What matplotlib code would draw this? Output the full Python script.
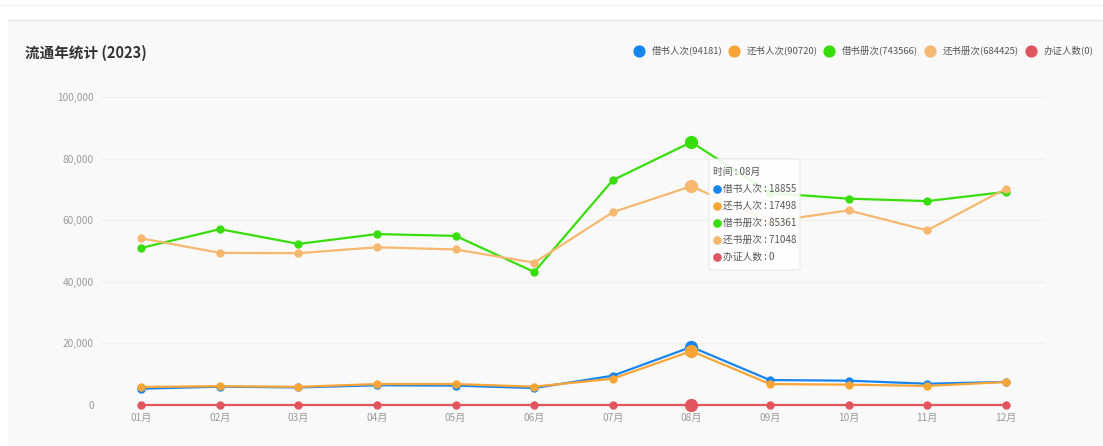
import matplotlib.pyplot as plt
from matplotlib.patches import Rectangle, FancyBboxPatch
from matplotlib.lines import Line2D
from matplotlib.ticker import FuncFormatter

plt.rcParams['font.family'] = ['Noto Sans CJK SC', 'DejaVu Sans']

# 数据
months = ['01月', '02月', '03月', '04月', '05月', '06月',
          '07月', '08月', '09月', '10月', '11月', '12月']
borrow_people = [5300, 5950, 5700, 6400, 6300, 5500, 9500, 18855, 8100, 7900, 6900, 7500]
return_people = [5850, 6100, 5900, 6800, 6800, 5950, 8550, 17498, 6800, 6600, 6200, 7450]
borrow_books = [51000, 57100, 52300, 55500, 54900, 43200, 73000, 85361, 68800, 67000, 66200, 69200]
return_books = [54100, 49400, 49300, 51200, 50500, 46200, 62600, 71048, 59500, 63200, 56700, 70200]
new_cards = [0, 0, 0, 0, 0, 0, 0, 0, 0, 0, 0, 0]

series_names = ['借书人次', '还书人次', '借书册次', '还书册次', '办证人数']
legend_totals = [94181, 90720, 743566, 684425, 0]
colors = ['#1685f2', '#f9a536', '#38dd0c', '#f6b86f', '#e2555e']
series = [borrow_people, return_people, borrow_books, return_books, new_cards]
hover = 7  # 08月

W, H = 1103, 446
fig = plt.figure(figsize=(W / 100, H / 100), dpi=100, facecolor='white')

# 背景面板
fig.add_artist(Rectangle((8 / W, 0), 1, 1 - 20 / H, facecolor='#f9f9f9',
                         edgecolor='none', zorder=-10))
fig.add_artist(Line2D([8 / W, 1], [1 - 20 / H, 1 - 20 / H], color='#e6e6e6', lw=1, zorder=-9))
fig.add_artist(Line2D([0, 1], [1 - 5 / H, 1 - 5 / H], color='#f0f0f0', lw=1, zorder=-9))

fig.text(25 / W, 1 - 53 / H, '流通年统计 (2023)', fontsize=10.5, fontweight='bold',
         color='#333333', va='center', ha='left')

# 图例
leg_circle_x = [639, 734, 829, 930, 1031]
for cx, name, total, c in zip(leg_circle_x, series_names, legend_totals, colors):
    fig.add_artist(Line2D([cx / W], [1 - 50.5 / H], marker='o', ms=7.8, color=c, lw=0))
    fig.text((cx + 13) / W, 1 - 50.5 / H, f'{name}({total})', fontsize=6.8,
             color='#555555', va='center', ha='left')

ax = fig.add_axes([102 / W, 1 - 405 / H, (1045 - 102) / W, (405 - 97) / H])
ax.set_facecolor('none')
x = list(range(len(months)))
for vals, c in zip(series, colors):
    ax.plot(x, vals, color=c, lw=1.6, marker='o', ms=5, clip_on=False)
    ax.plot([x[hover]], [vals[hover]], marker='o', ms=8.5, color=c, lw=0, clip_on=False)

ax.set_xlim(-0.5, len(months) - 0.5)
ax.set_ylim(0, 100000)
ax.set_yticks([0, 20000, 40000, 60000, 80000, 100000])
ax.yaxis.set_major_formatter(FuncFormatter(lambda v, p: f'{int(v):,}'))
ax.set_xticks(x)
ax.set_xticklabels(months)
ax.tick_params(axis='both', length=0, labelsize=7.3, colors='#999999')
ax.tick_params(axis='x', pad=5.5)
ax.tick_params(axis='y', pad=6)
ax.grid(axis='y', color='#efefef', lw=0.8)
ax.set_axisbelow(True)
for s in ax.spines.values():
    s.set_visible(False)

# 提示框
tip = FancyBboxPatch((709 / W, 1 - 270 / H), 91 / W, 111 / H,
                     boxstyle='round,pad=0,rounding_size=0.004',
                     transform=fig.transFigure, facecolor='white', alpha=0.88,
                     edgecolor='#e6e6e6', lw=0.8, zorder=5)
fig.add_artist(tip)
fig.text(713 / W, 1 - 172 / H, f'时间 : {months[hover]}', fontsize=7, color='#555555',
         va='center', ha='left', zorder=6)
row_y = [189, 206, 223, 240, 257]
for ry, name, vals, c in zip(row_y, series_names, series, colors):
    fig.add_artist(Line2D([716.5 / W], [1 - ry / H], marker='o', ms=5.2, color=c, lw=0, zorder=6))
    fig.text(723 / W, 1 - ry / H, f'{name} : {vals[hover]}', fontsize=7, color='#555555',
             va='center', ha='left', zorder=6)

fig.savefig('out.png', dpi=100, facecolor='white')
